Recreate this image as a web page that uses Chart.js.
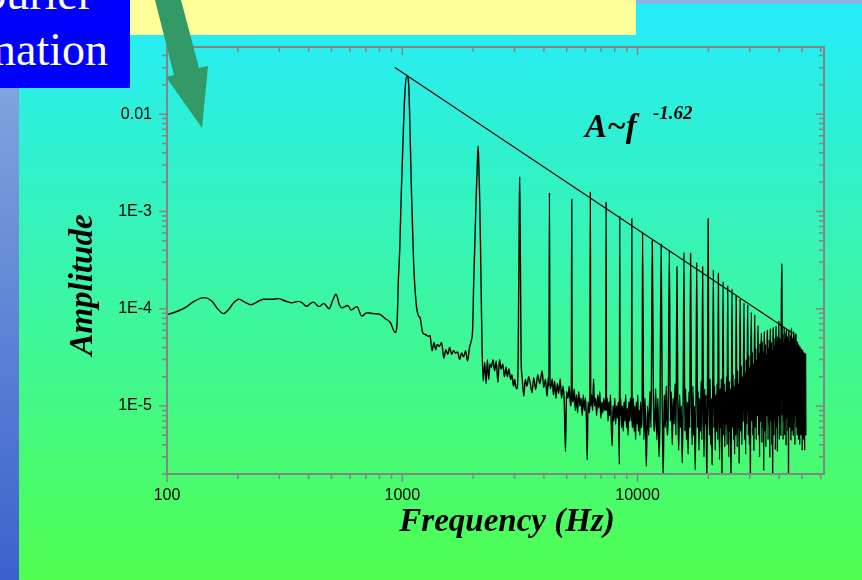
<!DOCTYPE html>
<html lang="en">
<head>
  <meta charset="UTF-8">
  <title>Amplitude spectrum</title>
  <style>
    html, body { margin: 0; padding: 0; }
    body {
      width: 862px; height: 580px; position: relative; overflow: hidden;
      background: linear-gradient(to bottom, #24ecfc 0%, #50ff50 100%);
    }
    .strip { position: absolute; left: 0; top: 0; width: 19px; height: 580px; background: linear-gradient(to bottom, #8ab0e0, #3a62cc); }
    .topband { position: absolute; left: 0; top: 0; width: 862px; height: 4px; background: #88b4e4; }
    .note { position: absolute; left: 130px; top: 0; width: 506px; height: 35px; background: #ffff99; }
    .label { position: absolute; left: 0; top: 0; width: 130px; height: 88px; background: #0000ff; overflow: hidden; color: #fff; font: 46px "Liberation Serif", serif; }
    .label span { position: absolute; white-space: nowrap; line-height: 46px; }
    #chart { position: absolute; left: 0; top: 0; }
    .arrow { position: absolute; left: 0; top: 0; }
  </style>
</head>
<body>
  <div class="strip"></div>
  <div class="topband"></div>
  <div class="note"></div>
  <div class="label">
    <span style="right: 37px; top: -29px;">Fourier</span>
    <span style="right: 22px; top: 27px;">transformation</span>
  </div>
  <canvas id="chart" width="862" height="580"></canvas>
  <svg class="arrow" width="862" height="580">
    <polygon points="155,0 181,0 199,68 208,66 202,128 166,77 174,75" fill="#339966"/>
  </svg>

  <script src="https://cdn.jsdelivr.net/npm/chart.js@4.4.0/dist/chart.umd.min.js"></script>
  <script>
    // axis text
    const xTickValues = [100, 1000, 10000];
    const xTickLabels = ['100', '1000', '10000'];
    const yTickValues = [1e-5, 1e-4, 1e-3, 1e-2];
    const yTickLabels = ['1E-5', '1E-4', '1E-3', '0.01'];
    const xTitle = 'Frequency (Hz)';
    const yTitle = 'Amplitude';

    // smooth part below the fundamental
    const lowHz = [100, 108, 119, 131, 144, 155, 164, 174, 182, 192, 202, 214, 228, 241, 257, 279, 297, 318, 337, 362,
      376, 392, 405, 419, 443, 464, 489, 505, 523, 540, 554, 586, 607, 641, 673, 707, 755, 807, 848, 890, 933];
    const lowAmp = [8.7e-5, 9.2e-5, 1.02e-4, 1.2e-4, 1.3e-4, 1.2e-4, 1.0e-4, 8.9e-5, 9.7e-5, 1.15e-4, 1.25e-4, 1.17e-4, 1.1e-4, 1.17e-4, 1.25e-4, 1.25e-4, 1.27e-4, 1.2e-4, 1.15e-4, 1.19e-4,
      1.15e-4, 1.06e-4, 1.12e-4, 1.17e-4, 1.05e-4, 1.13e-4, 1.0e-4, 1.2e-4, 1.41e-4, 1.1e-4, 1.02e-4, 1.08e-4, 9.7e-5, 1.05e-4, 8.4e-5, 9.1e-5, 8.9e-5, 8.7e-5, 7.9e-5, 7.2e-5, 5.7e-5];

    // harmonic peaks (with flanks of the first three)
    const peakHz = [950, 962, 975, 990, 1005, 1025, 1047, 1065, 1080, 1095, 1117, 1145, 1173,
      1990, 2012, 2040, 2060, 2085, 2100, 2115, 2133, 2150, 2172,
      3110, 3140, 3155, 3170, 3200,
      4222, 5250, 6300, 7350, 8400, 9450,
      10500, 11550, 12600, 13650, 14700, 15750, 16800, 17850, 18900, 19950,
      21000, 22050, 23100, 24150, 25200, 26250,
      27300, 28350, 29400, 30450, 31500, 32550, 33600, 34650, 35700, 36750,
      37800, 38850, 39900, 40950, 41100,
      42000, 43050, 44100, 45150, 46200, 47250];
    const peakAmp = [7e-5, 1.9e-4, 4e-4, 1.5e-3, 4.5e-3, 0.016, 0.025, 0.02, 6e-3, 1.5e-3, 3.0e-4, 1.15e-4, 8.4e-5,
      6e-5, 1.9e-4, 6e-4, 1.35e-3, 3.2e-3, 4.7e-3, 3e-3, 1.35e-3, 4.5e-4, 8.5e-5,
      3.5e-5, 8e-4, 2.26e-3, 7e-4, 3.0e-5,
      1.56e-3, 1.33e-3, 1.6e-3, 1.26e-3, 9.0e-4, 8.4e-4,
      6.2e-4, 5.05e-4, 4.6e-4, 4.0e-4, 2.7e-4, 3.8e-4, 3.7e-4, 3.0e-4, 2.7e-4, 8.4e-4,
      2.5e-4, 2.3e-4, 1.9e-4, 1.7e-4, 1.6e-4, 1.35e-4,
      1.27e-4, 1.15e-4, 1.1e-4, 9.2e-5, 8.7e-5, 6.7e-5, 5.6e-5, 5.8e-5, 6.0e-5, 6.2e-5,
      6.4e-5, 6.6e-5, 7.5e-5, 2.9e-4, 1.5e-4,
      6.5e-5, 6.2e-5, 6.0e-5, 6.3e-5, 5.8e-5, 5.5e-5];

    // noise floor between the peaks
    const noiseHz = [
      1190, 1220, 1260, 1290, 1312, 1338, 1364, 1386, 1408, 1435, 1469, 1502, 1531, 1560, 1590, 1621, 1653, 1685, 1718, 1752, 1786, 1821, 1857, 1894, 1931, 1969,
      2205, 2240, 2271, 2300, 2330, 2360, 2391, 2430, 2468, 2508, 2549, 2589, 2631, 2673, 2717, 2762, 2796, 2840, 2887, 2922, 2970, 3003, 3033, 3070,
      3230, 3285, 3333, 3390, 3445, 3500, 3560, 3620, 3690, 3765, 3840, 3930, 3990, 4060, 4125, 4180, 4200,
      4245, 4290, 4340, 4390, 4440, 4500, 4560, 4620, 4690, 4750, 4820, 4880, 4940, 4990, 5060, 5120, 5190, 5230,
      5275, 5320, 5380, 5440, 5500, 5560, 5620, 5690, 5750, 5820, 5880, 5950, 6010, 6060, 6110, 6160, 6230, 6270,
      6325, 6380, 6440, 6500, 6560, 6630, 6700, 6770, 6840, 6910, 6980, 7050, 7120, 7190, 7260, 7320,
      7380, 7430, 7490, 7550, 7610, 7670, 7730, 7800, 7860, 7930, 8000, 8070, 8140, 8210, 8280, 8370,
      8430, 8480, 8550, 8620, 8690, 8760, 8830, 8900, 8970, 9040, 9110, 9180, 9250, 9320, 9420,
      9480, 9530, 9600, 9670, 9740, 9810, 9880, 9950, 10020, 10090, 10160, 10230, 10300, 10370, 10460,
      10630, 10760, 10890, 11020, 11150, 11280, 11410,
      11680, 11810, 11940, 12070, 12200, 12330, 12460,
      12730, 12850, 12980, 13110, 13240, 13370, 13510,
      13780, 13910, 14040, 14170, 14300, 14430, 14570,
      14830, 14960, 15090, 15220, 15350, 15480, 15620,
      15880, 16010, 16140, 16270, 16400, 16530, 16670,
      16930, 17060, 17190, 17320, 17450, 17580, 17720,
      17980, 18110, 18240, 18370, 18500, 18630, 18770,
      19030, 19160, 19290, 19420, 19550, 19680, 19820,
      20080, 20210, 20340, 20470, 20600, 20730, 20870,
      21130, 21260, 21390, 21520, 21650, 21780, 21920,
      22180, 22310, 22440, 22570, 22700, 22830, 22970,
      23230, 23360, 23490, 23620, 23750, 23880, 24020,
      24280, 24410, 24540, 24670, 24800, 24930, 25070,
      25330, 25460, 25590, 25720, 25850, 25980, 26120,
      26380, 26510, 26640, 26770, 26900, 27030, 27170,
      27450, 27600, 27750, 27900, 28050, 28200,
      28500, 28650, 28800, 28950, 29100, 29250,
      29550, 29700, 29850, 30000, 30150, 30300,
      30600, 30750, 30900, 31050, 31200, 31350,
      31650, 31800, 31950, 32100, 32250, 32400,
      32700, 32850, 33000, 33150, 33300, 33450,
      33750, 33900, 34050, 34200, 34350, 34500,
      34800, 34950, 35100, 35250, 35400, 35550,
      35850, 36000, 36150, 36300, 36450, 36600,
      36900, 37050, 37200, 37350, 37500, 37650,
      37950, 38100, 38250, 38400, 38550, 38700,
      39000, 39150, 39300, 39450, 39600, 39750,
      40050, 40200, 40350, 40500, 40650, 40800,
      41250, 41400, 41550, 41700, 41850,
      42150, 42300, 42450, 42600, 42750, 42900,
      43200, 43350, 43500, 43650, 43800, 43950,
      44250, 44400, 44550, 44700, 44850, 45000,
      45300, 45450, 45600, 45750, 45900, 46050,
      46350, 46500, 46650, 46800, 46950, 47100,
      47400, 47550, 47700, 47850, 48000, 48150, 48300, 48450, 48600, 48750, 48900, 49050, 49200, 49350, 49500, 49650,
      49800, 49950, 50100, 50250, 50400, 50550, 50700, 50850, 51000, 51150, 51300, 51450, 51600, 51750, 51900
    ];
    const noiseAmp = [
      8.1e-5, 5.7e-5, 5.4e-5, 5.2e-5, 5.3e-5, 3.7e-5, 4.5e-5, 3.8e-5, 4.3e-5, 4.1e-5, 4.5e-5, 3.1e-5, 3.8e-5, 3.4e-5, 4.0e-5, 3.4e-5, 3.7e-5, 3.5e-5, 3.6e-5, 3.0e-5, 3.5e-5, 3.2e-5, 3.7e-5, 2.9e-5, 4.0e-5, 4.8e-5,
      1.8e-5, 2.8e-5, 1.7e-5, 3.0e-5, 1.87e-5, 2.7e-5, 2.5e-5, 3.0e-5, 2.3e-5, 2.9e-5, 1.75e-5, 3.0e-5, 2.4e-5, 2.7e-5, 2.0e-5, 2.5e-5, 2.0e-5, 2.4e-5, 1.87e-5, 2.1e-5, 1.6e-5, 1.87e-5, 1.6e-5, 1.5e-5,
      2.0e-5, 1.26e-5, 1.87e-5, 1.6e-5, 2.0e-5, 1.7e-5, 1.37e-5, 1.95e-5, 1.48e-5, 2.1e-5, 1.7e-5, 2.3e-5, 1.55e-5, 1.87e-5, 1.26e-5, 2.0e-5, 1.6e-5,
      1.5e-5, 1.6e-5, 1.9e-5, 1.3e-5, 1.8e-5, 1.2e-5, 1.7e-5, 1.35e-5, 1.9e-5, 1.2e-5, 1.6e-5, 1.1e-5, 3.4e-6, 1.4e-5, 1.2e-5, 1.6e-5, 1.0e-5, 1.4e-5,
      1.2e-5, 1.1e-5, 1.5e-5, 9e-6, 1.3e-5, 8.5e-6, 1.4e-5, 1.0e-5, 1.2e-5, 8e-6, 1.3e-5, 9e-6, 1.2e-5, 7.5e-6, 2.8e-6, 1.1e-5, 8.5e-6, 1.2e-5,
      1.0e-5, 1.3e-5, 9e-6, 1.9e-5, 1.0e-5, 1.2e-5, 8e-6, 1.3e-5, 9.5e-6, 1.4e-5, 7.5e-6, 1.1e-5, 8.5e-6, 1.2e-5, 9e-6, 1.1e-5,
      9e-6, 1.2e-5, 7e-6, 1.1e-5, 8e-6, 1.3e-5, 6.5e-6, 3.9e-6, 1.0e-5, 7e-6, 1.2e-5, 6.5e-6, 1.0e-5, 7.5e-6, 1.1e-5, 2.5e-6,
      8e-6, 1.2e-5, 6e-6, 1.0e-5, 5.5e-6, 1.1e-5, 7e-6, 1.3e-5, 6e-6, 9.5e-6, 5e-6, 1.1e-5, 7e-6, 1.2e-5, 7e-6,
      9e-6, 6e-6, 1.2e-5, 5.5e-6, 1.0e-5, 4.5e-6, 1.1e-5, 6.5e-6, 1.3e-5, 5.5e-6, 9e-6, 5e-6, 1.1e-5, 6e-6, 1.0e-5,
      4.5e-6, 1.2e-5, 2.4e-6, 1.0e-5, 5e-6, 1.4e-5, 6e-6,
      1.1e-5, 5.5e-6, 1.5e-5, 4.5e-6, 1.2e-5, 3.0e-6, 9e-6,
      1.0e-5, 1.8e-6, 1.3e-5, 6e-6, 1.6e-5, 5e-6, 1.1e-5,
      7e-6, 1.4e-5, 4e-6, 1.2e-5, 6.5e-6, 1.7e-5, 5e-6,
      1.1e-5, 3.5e-6, 1.3e-5, 6e-6, 1.0e-5, 2.6e-6, 1.2e-5,
      5.5e-6, 1.5e-5, 4.5e-6, 1.1e-5, 3.2e-6, 1.4e-5, 6e-6,
      1.2e-5, 4e-6, 1.6e-5, 5e-6, 1.0e-5, 2.2e-6, 1.3e-5,
      6e-6, 1.4e-5, 3.5e-6, 1.2e-5, 5.5e-6, 1.8e-5, 4.5e-6,
      1.1e-5, 3e-6, 1.5e-5, 6.5e-6, 1.3e-5, 1.6e-6, 1.0e-5,
      1.4e-5, 5e-6, 1.9e-5, 4e-6, 1.2e-5, 2.5e-6, 1.5e-5,
      6e-6, 1.6e-5, 3.5e-6, 1.3e-5, 5.5e-6, 1.7e-5, 4.5e-6,
      1.2e-5, 2.8e-6, 1.5e-5, 6e-6, 1.9e-5, 2.0e-6, 1.1e-5,
      5e-6, 1.7e-5, 3.8e-6, 1.4e-5, 6.5e-6, 2.0e-5, 4e-6,
      1.3e-5, 3e-6, 1.8e-5, 5.5e-6, 1.5e-5, 1.5e-6, 1.2e-5,
      6e-6, 2.1e-5, 4.5e-6, 1.6e-5, 3.2e-6, 1.9e-5, 5e-6,
      1.5e-5, 3.8e-6, 2.3e-5, 6e-6, 1.7e-5, 2.6e-6, 2.0e-5,
      5.5e-6, 2.6e-5, 4e-6, 2.0e-5, 7e-6, 2.8e-5,
      4.5e-6, 2.2e-5, 3.2e-6, 3.0e-5, 6.5e-6, 2.4e-5,
      5e-6, 3.3e-5, 4e-6, 2.5e-5, 1.8e-6, 2.9e-5,
      7e-6, 3.6e-5, 5e-6, 2.7e-5, 3.5e-6, 3.2e-5,
      6e-6, 3.9e-5, 4.5e-6, 3.0e-5, 8e-6, 4.2e-5,
      5e-6, 3.5e-5, 3e-6, 4.4e-5, 7e-6, 3.2e-5,
      4.2e-6, 4.6e-5, 6e-6, 3.6e-5, 2.2e-6, 4.0e-5,
      5.5e-6, 4.3e-5, 3.8e-6, 3.4e-5, 8e-6, 4.7e-5,
      4.5e-6, 3.9e-5, 6.5e-6, 4.8e-5, 3e-6, 3.6e-5,
      7e-6, 4.5e-5, 4e-6, 3.8e-5, 1.6e-6, 4.9e-5,
      5e-6, 4.1e-5, 7.5e-6, 5.0e-5, 3.6e-6, 4.4e-5,
      6e-6, 4.6e-5, 3.4e-6, 5.2e-5, 8e-6, 4.0e-5,
      4.5e-6, 5.0e-5, 6.5e-6, 4.2e-5, 5e-6, 5.4e-5,
      8e-6, 5.5e-5, 4.5e-6, 4.4e-5, 7e-6,
      5e-6, 4.8e-5, 9e-6, 5.6e-5, 4e-6, 4.1e-5,
      7.5e-6, 5.2e-5, 5.5e-6, 4.6e-5, 1.7e-6, 5.5e-5,
      6e-6, 4.5e-5, 8.5e-6, 5.3e-5, 4.5e-6, 4.7e-5,
      5.5e-6, 5.0e-5, 9e-6, 4.2e-5, 5e-6, 5.4e-5,
      7e-6, 4.8e-5, 4e-6, 5.5e-5, 8e-6, 4.4e-5,
      6e-6, 4.0e-5, 5e-6, 4.6e-5, 8e-6, 3.8e-5, 4.5e-6, 4.3e-5, 7e-6, 3.6e-5, 4e-6, 4.1e-5, 9e-6, 3.5e-5, 5e-6, 3.9e-5,
      6.5e-6, 3.4e-5, 3.5e-6, 3.8e-5, 7e-6, 3.3e-5, 4.5e-6, 3.6e-5, 8e-6, 3.2e-5, 3.5e-6, 3.5e-5, 6e-6, 3.4e-5, 5e-6
    ];

    // power-law guide line A ~ f^-1.62
    const fitHz = [930, 45700];
    const fitAmp = [0.0302, 5.6e-5];

    const spectrum = [
      ...lowHz.map((f, i) => ({ x: f, y: lowAmp[i] })),
      ...peakHz.map((f, i) => ({ x: f, y: peakAmp[i] })),
      ...noiseHz.map((f, i) => ({ x: f, y: noiseAmp[i] }))
    ].sort((a, b) => a.x - b.x);
    const fit = fitHz.map((f, i) => ({ x: f, y: fitAmp[i] }));

    const tickFont = { family: "'Liberation Sans', Arial, sans-serif", size: 16 };

    // frame, minor/major tick marks, titles and the power-law note
    const framePlugin = {
      id: 'frame',
      afterDraw(chart) {
        const { ctx, chartArea: a, scales: { x, y } } = chart;
        ctx.save();
        ctx.strokeStyle = '#858585';
        ctx.lineWidth = 2;
        ctx.strokeRect(a.left, a.top, a.right - a.left, a.bottom - a.top);
        ctx.lineWidth = 1.5;
        ctx.beginPath();
        for (let e = 2; e <= 4; e++) {
          for (let m = 1; m <= 9; m++) {
            const v = m * 10 ** e;
            if (v > x.max) break;
            const px = x.getPixelForValue(v);
            const len = m === 1 ? 8 : 5;
            ctx.moveTo(px, a.bottom); ctx.lineTo(px, a.bottom + len);
            ctx.moveTo(px, a.top); ctx.lineTo(px, a.top + len);
          }
        }
        for (let e = -6; e <= -2; e++) {
          for (let m = 1; m <= 9; m++) {
            const v = m * 10 ** e;
            if (v < y.min || v > y.max) continue;
            const py = y.getPixelForValue(v);
            const len = m === 1 ? 8 : 5;
            ctx.moveTo(a.left - len, py); ctx.lineTo(a.left, py);
            ctx.moveTo(a.right - len, py); ctx.lineTo(a.right, py);
          }
        }
        ctx.stroke();

        ctx.fillStyle = '#000';
        ctx.font = 'italic bold 33px "Liberation Serif", serif';
        ctx.textBaseline = 'alphabetic';
        ctx.textAlign = 'center';
        ctx.fillText(xTitle, 507, 531);
        ctx.save();
        ctx.translate(92, 285);
        ctx.rotate(-Math.PI / 2);
        ctx.fillText(yTitle, 0, 0);
        ctx.restore();
        ctx.textAlign = 'left';
        ctx.fillText('A~f', 585, 137);
        ctx.font = 'italic bold 19px "Liberation Serif", serif';
        ctx.fillText('-1.62', 653, 119);
        ctx.restore();
      }
    };

    new Chart(document.getElementById('chart'), {
      type: 'line',
      data: {
        datasets: [
          { data: spectrum, borderColor: '#000', borderWidth: 1.4, pointRadius: 0, cubicInterpolationMode: 'monotone' },
          { data: fit, borderColor: '#000', borderWidth: 1.1, pointRadius: 0 }
        ]
      },
      options: {
        responsive: false,
        animation: false,
        events: [],
        layout: { padding: { top: 47, right: 38, left: 0, bottom: 0 } },
        plugins: { legend: { display: false }, tooltip: { enabled: false } },
        scales: {
          x: {
            type: 'logarithmic', min: 100, max: 62000,
            grid: { display: false, drawTicks: false },
            border: { display: false },
            ticks: {
              color: '#000', font: tickFont, padding: 12, maxRotation: 0, autoSkip: false,
              callback: (v) => xTickLabels[xTickValues.indexOf(v)] ?? ''
            },
            afterBuildTicks: (s) => { s.ticks = xTickValues.map((v) => ({ value: v })); },
            afterFit: (s) => { s.height = 106; }
          },
          y: {
            type: 'logarithmic', min: 2e-6, max: 0.049,
            grid: { display: false, drawTicks: false },
            border: { display: false },
            ticks: {
              color: '#000', font: tickFont, padding: 15, autoSkip: false,
              callback: (v) => yTickLabels[yTickValues.indexOf(v)] ?? ''
            },
            afterBuildTicks: (s) => { s.ticks = yTickValues.map((v) => ({ value: v })); },
            afterFit: (s) => { s.width = 167; }
          }
        }
      },
      plugins: [framePlugin]
    });
  </script>
</body>
</html>
